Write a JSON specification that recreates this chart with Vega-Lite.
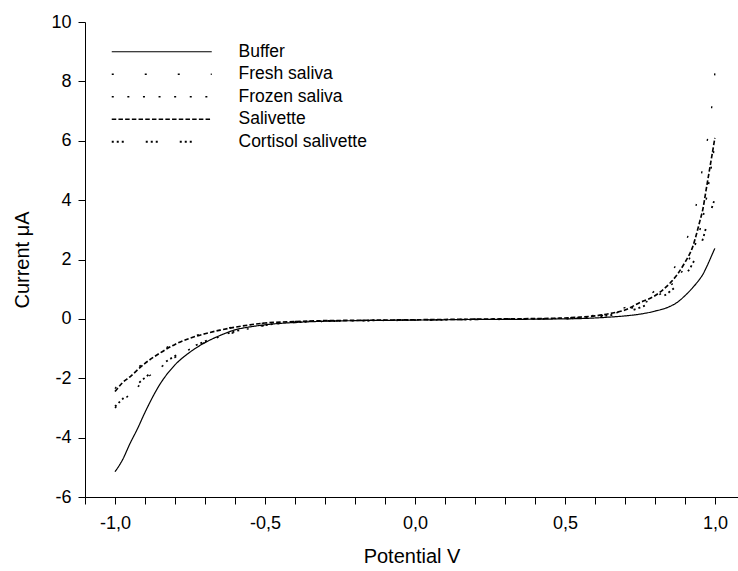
{
  "$schema": "https://vega.github.io/schema/vega-lite/v6.json",
  "autosize": {"type": "none"},
  "width": 653,
  "height": 475,
  "padding": {"left": 85, "top": 22, "right": 0, "bottom": 74},
  "background": "white",
  "config": {
    "font": "Liberation Sans",
    "view": {"stroke": null},
    "axis": {"domainColor": "black", "tickColor": "black", "labelColor": "black", "titleColor": "black", "grid": false, "labelFontSize": 18, "titleFontSize": 20, "titleFontWeight": "normal", "tickSize": 7, "domainWidth": 1, "tickWidth": 1}
  },
  "datasets": {
    "cv": [
      {"s":"Buffer","v":-1.0,"i":-5.15},{"s":"Buffer","v":-0.975,"i":-4.75},{"s":"Buffer","v":-0.95,"i":-4.2},{"s":"Buffer","v":-0.925,"i":-3.7},{"s":"Buffer","v":-0.9,"i":-3.15},{"s":"Buffer","v":-0.85,"i":-2.2},{"s":"Buffer","v":-0.8,"i":-1.55},{"s":"Buffer","v":-0.75,"i":-1.12},{"s":"Buffer","v":-0.7,"i":-0.8},{"s":"Buffer","v":-0.65,"i":-0.56},{"s":"Buffer","v":-0.6,"i":-0.37},{"s":"Buffer","v":-0.55,"i":-0.27},{"s":"Buffer","v":-0.5,"i":-0.2},{"s":"Buffer","v":-0.4,"i":-0.12},{"s":"Buffer","v":-0.3,"i":-0.08},{"s":"Buffer","v":-0.2,"i":-0.06},{"s":"Buffer","v":-0.1,"i":-0.05},{"s":"Buffer","v":0.0,"i":-0.04},{"s":"Buffer","v":0.1,"i":-0.03},{"s":"Buffer","v":0.2,"i":-0.02},{"s":"Buffer","v":0.3,"i":-0.02},{"s":"Buffer","v":0.4,"i":-0.01},{"s":"Buffer","v":0.5,"i":0.0},{"s":"Buffer","v":0.55,"i":0.01},{"s":"Buffer","v":0.6,"i":0.03},{"s":"Buffer","v":0.65,"i":0.06},{"s":"Buffer","v":0.7,"i":0.1},{"s":"Buffer","v":0.75,"i":0.16},{"s":"Buffer","v":0.8,"i":0.26},{"s":"Buffer","v":0.85,"i":0.42},{"s":"Buffer","v":0.875,"i":0.56},{"s":"Buffer","v":0.9,"i":0.78},{"s":"Buffer","v":0.925,"i":1.04},{"s":"Buffer","v":0.95,"i":1.35},{"s":"Buffer","v":0.96,"i":1.5},{"s":"Buffer","v":0.97,"i":1.7},{"s":"Buffer","v":0.98,"i":1.92},{"s":"Buffer","v":0.99,"i":2.15},{"s":"Buffer","v":1.0,"i":2.38},

      {"s":"Fresh saliva","v":-1.0,"i":-2.35},{"s":"Fresh saliva","v":-0.975,"i":-2.05},{"s":"Fresh saliva","v":-0.95,"i":-1.85},{"s":"Fresh saliva","v":-0.925,"i":-1.65},{"s":"Fresh saliva","v":-0.9,"i":-1.45},{"s":"Fresh saliva","v":-0.85,"i":-1.1},{"s":"Fresh saliva","v":-0.8,"i":-0.82},{"s":"Fresh saliva","v":-0.75,"i":-0.62},{"s":"Fresh saliva","v":-0.7,"i":-0.48},{"s":"Fresh saliva","v":-0.65,"i":-0.36},{"s":"Fresh saliva","v":-0.6,"i":-0.27},{"s":"Fresh saliva","v":-0.55,"i":-0.2},{"s":"Fresh saliva","v":-0.5,"i":-0.14},{"s":"Fresh saliva","v":-0.4,"i":-0.09},{"s":"Fresh saliva","v":-0.3,"i":-0.06},{"s":"Fresh saliva","v":-0.2,"i":-0.05},{"s":"Fresh saliva","v":-0.1,"i":-0.04},{"s":"Fresh saliva","v":0.0,"i":-0.03},{"s":"Fresh saliva","v":0.1,"i":-0.02},{"s":"Fresh saliva","v":0.2,"i":-0.01},{"s":"Fresh saliva","v":0.3,"i":0.0},{"s":"Fresh saliva","v":0.4,"i":0.01},{"s":"Fresh saliva","v":0.5,"i":0.03},{"s":"Fresh saliva","v":0.55,"i":0.07},{"s":"Fresh saliva","v":0.6,"i":0.12},{"s":"Fresh saliva","v":0.65,"i":0.22},{"s":"Fresh saliva","v":0.7,"i":0.38},{"s":"Fresh saliva","v":0.75,"i":0.62},{"s":"Fresh saliva","v":0.8,"i":0.95},{"s":"Fresh saliva","v":0.85,"i":1.5},{"s":"Fresh saliva","v":0.875,"i":1.9},{"s":"Fresh saliva","v":0.9,"i":2.5},{"s":"Fresh saliva","v":0.925,"i":3.3},{"s":"Fresh saliva","v":0.95,"i":4.5},{"s":"Fresh saliva","v":0.96,"i":5.2},{"s":"Fresh saliva","v":0.97,"i":5.8},{"s":"Fresh saliva","v":0.98,"i":6.3},{"s":"Fresh saliva","v":0.99,"i":7.2},{"s":"Fresh saliva","v":1.0,"i":8.3},

      {"s":"Frozen saliva","v":-1.0,"i":-3.0},{"s":"Frozen saliva","v":-0.975,"i":-2.75},{"s":"Frozen saliva","v":-0.95,"i":-2.55},{"s":"Frozen saliva","v":-0.925,"i":-2.3},{"s":"Frozen saliva","v":-0.9,"i":-2.05},{"s":"Frozen saliva","v":-0.85,"i":-1.65},{"s":"Frozen saliva","v":-0.8,"i":-1.3},{"s":"Frozen saliva","v":-0.75,"i":-1.02},{"s":"Frozen saliva","v":-0.7,"i":-0.8},{"s":"Frozen saliva","v":-0.65,"i":-0.6},{"s":"Frozen saliva","v":-0.6,"i":-0.45},{"s":"Frozen saliva","v":-0.55,"i":-0.32},{"s":"Frozen saliva","v":-0.5,"i":-0.22},{"s":"Frozen saliva","v":-0.4,"i":-0.12},{"s":"Frozen saliva","v":-0.35,"i":-0.08},{"s":"Frozen saliva","v":-0.34,"i":-0.17},{"s":"Frozen saliva","v":-0.33,"i":-0.08},{"s":"Frozen saliva","v":-0.32,"i":-0.16},{"s":"Frozen saliva","v":-0.31,"i":-0.08},{"s":"Frozen saliva","v":-0.2,"i":-0.06},{"s":"Frozen saliva","v":-0.1,"i":-0.05},{"s":"Frozen saliva","v":0.0,"i":-0.04},{"s":"Frozen saliva","v":0.1,"i":-0.03},{"s":"Frozen saliva","v":0.2,"i":-0.02},{"s":"Frozen saliva","v":0.3,"i":-0.01},{"s":"Frozen saliva","v":0.4,"i":0.0},{"s":"Frozen saliva","v":0.5,"i":0.02},{"s":"Frozen saliva","v":0.55,"i":0.04},{"s":"Frozen saliva","v":0.6,"i":0.08},{"s":"Frozen saliva","v":0.65,"i":0.16},{"s":"Frozen saliva","v":0.7,"i":0.28},{"s":"Frozen saliva","v":0.75,"i":0.48},{"s":"Frozen saliva","v":0.8,"i":0.72},{"s":"Frozen saliva","v":0.85,"i":1.1},{"s":"Frozen saliva","v":0.875,"i":1.38},{"s":"Frozen saliva","v":0.9,"i":1.75},{"s":"Frozen saliva","v":0.925,"i":2.25},{"s":"Frozen saliva","v":0.95,"i":3.0},{"s":"Frozen saliva","v":0.96,"i":3.4},{"s":"Frozen saliva","v":0.97,"i":3.95},{"s":"Frozen saliva","v":0.98,"i":4.6},{"s":"Frozen saliva","v":0.99,"i":5.25},{"s":"Frozen saliva","v":1.0,"i":5.9},

      {"s":"Salivette","v":-1.0,"i":-2.45},{"s":"Salivette","v":-0.975,"i":-2.15},{"s":"Salivette","v":-0.95,"i":-1.95},{"s":"Salivette","v":-0.925,"i":-1.72},{"s":"Salivette","v":-0.9,"i":-1.5},{"s":"Salivette","v":-0.85,"i":-1.15},{"s":"Salivette","v":-0.8,"i":-0.86},{"s":"Salivette","v":-0.75,"i":-0.65},{"s":"Salivette","v":-0.7,"i":-0.5},{"s":"Salivette","v":-0.65,"i":-0.38},{"s":"Salivette","v":-0.6,"i":-0.28},{"s":"Salivette","v":-0.55,"i":-0.2},{"s":"Salivette","v":-0.5,"i":-0.14},{"s":"Salivette","v":-0.4,"i":-0.09},{"s":"Salivette","v":-0.3,"i":-0.06},{"s":"Salivette","v":-0.2,"i":-0.05},{"s":"Salivette","v":-0.1,"i":-0.04},{"s":"Salivette","v":0.0,"i":-0.03},{"s":"Salivette","v":0.1,"i":-0.02},{"s":"Salivette","v":0.2,"i":-0.01},{"s":"Salivette","v":0.3,"i":0.0},{"s":"Salivette","v":0.4,"i":0.01},{"s":"Salivette","v":0.5,"i":0.03},{"s":"Salivette","v":0.55,"i":0.06},{"s":"Salivette","v":0.6,"i":0.1},{"s":"Salivette","v":0.65,"i":0.18},{"s":"Salivette","v":0.7,"i":0.3},{"s":"Salivette","v":0.75,"i":0.55},{"s":"Salivette","v":0.8,"i":0.78},{"s":"Salivette","v":0.85,"i":1.2},{"s":"Salivette","v":0.875,"i":1.5},{"s":"Salivette","v":0.9,"i":1.9},{"s":"Salivette","v":0.925,"i":2.4},{"s":"Salivette","v":0.95,"i":3.3},{"s":"Salivette","v":0.96,"i":3.7},{"s":"Salivette","v":0.97,"i":4.3},{"s":"Salivette","v":0.98,"i":4.9},{"s":"Salivette","v":0.99,"i":5.5},{"s":"Salivette","v":1.0,"i":6.1},

      {"s":"Cortisol salivette","v":-1.0,"i":-2.95},{"s":"Cortisol salivette","v":-0.975,"i":-2.7},{"s":"Cortisol salivette","v":-0.95,"i":-2.45},{"s":"Cortisol salivette","v":-0.925,"i":-2.2},{"s":"Cortisol salivette","v":-0.9,"i":-1.98},{"s":"Cortisol salivette","v":-0.85,"i":-1.58},{"s":"Cortisol salivette","v":-0.8,"i":-1.25},{"s":"Cortisol salivette","v":-0.75,"i":-0.98},{"s":"Cortisol salivette","v":-0.7,"i":-0.76},{"s":"Cortisol salivette","v":-0.65,"i":-0.57},{"s":"Cortisol salivette","v":-0.6,"i":-0.42},{"s":"Cortisol salivette","v":-0.55,"i":-0.3},{"s":"Cortisol salivette","v":-0.5,"i":-0.21},{"s":"Cortisol salivette","v":-0.4,"i":-0.12},{"s":"Cortisol salivette","v":-0.3,"i":-0.08},{"s":"Cortisol salivette","v":-0.2,"i":-0.06},{"s":"Cortisol salivette","v":-0.1,"i":-0.05},{"s":"Cortisol salivette","v":0.0,"i":-0.04},{"s":"Cortisol salivette","v":0.1,"i":-0.03},{"s":"Cortisol salivette","v":0.2,"i":-0.02},{"s":"Cortisol salivette","v":0.3,"i":-0.01},{"s":"Cortisol salivette","v":0.4,"i":0.0},{"s":"Cortisol salivette","v":0.5,"i":0.01},{"s":"Cortisol salivette","v":0.55,"i":0.03},{"s":"Cortisol salivette","v":0.6,"i":0.06},{"s":"Cortisol salivette","v":0.65,"i":0.12},{"s":"Cortisol salivette","v":0.7,"i":0.22},{"s":"Cortisol salivette","v":0.75,"i":0.38},{"s":"Cortisol salivette","v":0.8,"i":0.6},{"s":"Cortisol salivette","v":0.85,"i":0.92},{"s":"Cortisol salivette","v":0.875,"i":1.15},{"s":"Cortisol salivette","v":0.9,"i":1.45},{"s":"Cortisol salivette","v":0.925,"i":1.85},{"s":"Cortisol salivette","v":0.95,"i":2.4},{"s":"Cortisol salivette","v":0.96,"i":2.7},{"s":"Cortisol salivette","v":0.97,"i":3.05},{"s":"Cortisol salivette","v":0.98,"i":3.4},{"s":"Cortisol salivette","v":0.99,"i":3.75},{"s":"Cortisol salivette","v":1.0,"i":4.05}
    ]
  },
  "layer": [
    {
      "mark": {"type": "rule", "color": "black", "strokeWidth": 1},
      "encoding": {"y": {"datum": 10, "type": "quantitative", "scale": {"domain": [-6, 10]}}}
    },
    {
      "data": {"name": "cv"},
      "mark": {"type": "line", "color": "black", "clip": true, "strokeCap": "butt", "interpolate": "monotone"},
      "encoding": {
        "x": {
          "field": "v", "type": "quantitative",
          "scale": {"domain": [-1.1, 1.077], "nice": false, "zero": false},
          "axis": {
            "title": "Potential V",
            "values": [-1.1,-1.0,-0.9,-0.8,-0.7,-0.6,-0.5,-0.4,-0.3,-0.2,-0.1,0,0.1,0.2,0.3,0.4,0.5,0.6,0.7,0.8,0.9,1.0],
            "labelExpr": "abs(datum.value*2 - round(datum.value*2)) < 0.001 ? ((datum.value < -0.001 ? '-' : '') + replace(format(abs(datum.value), '.1f'), '.', ',')) : ''",
            "labelPadding": 10,
            "titlePadding": 14,
            "labelFlush": false,
            "labelOverlap": false
          }
        },
        "y": {
          "field": "i", "type": "quantitative",
          "scale": {"domain": [-6, 10], "nice": false, "zero": false},
          "axis": {
            "title": "Current μA",
            "values": [-6,-4,-2,0,2,4,6,8,10],
            "labelExpr": "(datum.value < 0 ? '-' : '') + abs(datum.value)",
            "labelPadding": 7,
            "titlePadding": 18,
            "labelFlush": false
          }
        },
        "detail": {"field": "s"},
        "strokeDash": {
          "field": "s", "type": "nominal",
          "scale": {
            "domain": ["Buffer", "Fresh saliva", "Frozen saliva", "Salivette", "Cortisol salivette"],
            "range": [[1, 0], [2, 31], [2, 13.6], [4.5, 2.2], [2, 3, 2, 3, 2, 22]]
          },
          "legend": {
            "title": null,
            "orient": "none",
            "legendX": 68,
            "legendY": 21,
            "padding": 0,
            "symbolType": "M-10,0H10",
            "symbolSize": 100,
            "symbolStrokeColor": "black",
            "symbolStrokeWidth": 1.6,
            "symbolFillColor": "transparent",
            "labelOffset": 68,
            "labelFontSize": 17.5,
            "labelColor": "black",
            "rowPadding": 3.5,
            "labelLimit": 300
          }
        },
        "strokeWidth": {
          "field": "s", "type": "nominal",
          "scale": {
            "domain": ["Buffer", "Fresh saliva", "Frozen saliva", "Salivette", "Cortisol salivette"],
            "range": [1.2, 1.8, 1.8, 3, 1.4]
          },
          "legend": null
        }
      }
    }
  ]
}
